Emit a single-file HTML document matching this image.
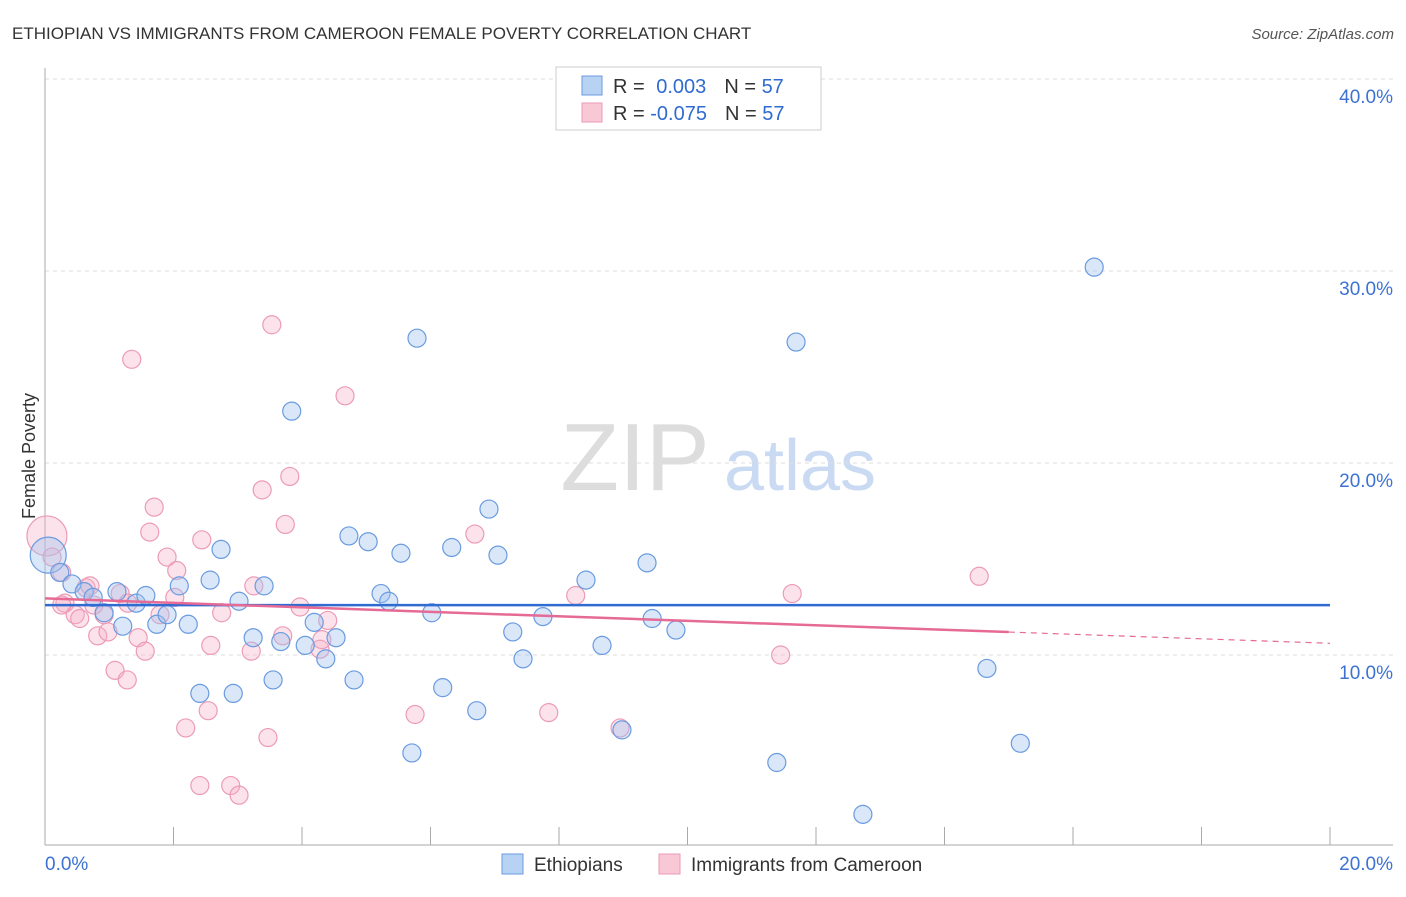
<!DOCTYPE html>
<html><head><meta charset="utf-8"><style>
body{margin:0;background:#fff;font-family:"Liberation Sans",sans-serif;}
svg text{font-family:"Liberation Sans",sans-serif;}
</style></head><body>
<svg width="1406" height="892" viewBox="0 0 1406 892">
<text x="12" y="39" font-size="17" fill="#333">ETHIOPIAN VS IMMIGRANTS FROM CAMEROON FEMALE POVERTY CORRELATION CHART</text>
<text x="1394" y="39" font-size="15" fill="#555" font-style="italic" text-anchor="end">Source: ZipAtlas.com</text>
<text x="35" y="456" font-size="18" fill="#333" text-anchor="middle" transform="rotate(-90 35 456)">Female Poverty</text>
<g><text x="635" y="490" font-size="96" font-family="Liberation Serif" fill="#ddd" text-anchor="middle">ZIP</text><text x="800" y="490" font-size="72" fill="#c9daf2" text-anchor="middle">atlas</text></g>
<g id="grid"></g><g id="axes"></g><g id="pts"></g><g id="lines"></g>
<g>
<rect x="556" y="67" width="265" height="63" fill="#fff" stroke="#ccc"/>
<rect x="582" y="76" width="20" height="19" fill="#b8d2f4" stroke="#6a9be0"/>
<rect x="582" y="103" width="20" height="19" fill="#f9c8d6" stroke="#eb9ab5"/>
<text x="613" y="93" font-size="20" fill="#333">R = <tspan fill="#2f6bd0" dx="6">0.003</tspan><tspan dx="18" fill="#333">N = </tspan><tspan fill="#2f6bd0">57</tspan></text>
<text x="613" y="120" font-size="20" fill="#333">R = <tspan fill="#2f6bd0">-0.075</tspan><tspan dx="18" fill="#333">N = </tspan><tspan fill="#2f6bd0">57</tspan></text>
</g>
<g>
<rect x="502" y="854" width="21" height="20" fill="#b8d2f4" stroke="#6a9be0"/>
<text x="534" y="871" font-size="19" fill="#333">Ethiopians</text>
<rect x="659" y="854" width="21" height="20" fill="#f9c8d6" stroke="#eb9ab5"/>
<text x="691" y="871" font-size="19" fill="#333">Immigrants from Cameroon</text>
</g>
</svg>
<script>
const xTicks=[0,20];
const yTicks=[10,20,30,40];
const blueX=[0.05,0.23,0.42,0.61,0.75,0.92,1.12,1.21,1.42,1.57,1.74,1.9,2.09,2.23,2.41,2.57,2.74,2.93,3.02,3.24,3.41,3.55,3.67,3.84,4.05,4.19,4.37,4.53,4.73,4.81,5.03,5.23,5.35,5.54,5.79,6.02,6.19,6.33,6.72,6.91,7.05,7.28,7.44,7.75,8.42,8.67,8.98,9.37,9.45,9.82,11.39,11.69,12.73,14.66,15.18,16.33,5.71];
const blueY=[15.2,14.3,13.7,13.3,13.0,12.2,13.3,11.5,12.7,13.1,11.6,12.1,13.6,11.6,8.0,13.9,15.5,8.0,12.8,10.9,13.6,8.7,10.7,22.7,10.5,11.7,9.8,10.9,16.2,8.7,15.9,13.2,12.8,15.3,26.5,12.2,8.3,15.6,7.1,17.6,15.2,11.2,9.8,12.0,13.9,10.5,6.1,14.8,11.9,11.3,4.4,26.3,1.7,9.3,5.4,30.2,4.9];
const pinkX=[0.03,0.11,0.26,0.31,0.47,0.54,0.64,0.7,0.82,0.92,0.98,1.09,1.17,1.28,1.45,1.56,1.63,1.7,1.79,1.9,2.02,2.05,2.19,2.41,2.44,2.54,2.58,2.75,2.89,3.02,3.21,3.25,3.38,3.47,3.53,3.7,3.74,3.81,4.28,4.31,4.4,4.67,5.76,6.69,7.84,8.26,8.95,11.45,11.63,14.54,1.35,0.26,0.76,1.29,3.97];
const pinkY=[16.2,15.1,14.3,12.7,12.1,11.9,13.5,13.6,11.0,12.1,11.2,9.2,13.2,8.7,10.9,10.2,16.4,17.7,12.1,15.1,13.0,14.4,6.2,3.2,16.0,7.1,10.5,12.2,3.2,2.7,10.2,13.6,18.6,5.7,27.2,11.0,16.8,19.3,10.3,10.8,11.8,23.5,6.9,16.3,7.0,13.1,6.2,10.0,13.2,14.1,25.4,12.6,12.6,12.7,12.5];
const blueA=12.6, blueB=0.0, pinkA=12.95, pinkB=-0.117;
const NS='http://www.w3.org/2000/svg';
const X=v=>45+v/20*1285, Y=v=>847-v*19.2;
function mk(t,a,p){const e=document.createElementNS(NS,t);for(const k in a)e.setAttribute(k,a[k]);p.appendChild(e);return e;}
const grid=document.getElementById('grid'),axes=document.getElementById('axes');
yTicks.forEach(v=>{
 const l=mk('line',{x1:45,x2:1393,y1:Y(v),y2:Y(v),stroke:'#ddd','stroke-dasharray':'4,4'},grid);
 
 
 const t=mk('text',{x:1393,y:Y(v)+24,'font-size':19,fill:'#3d72d2','text-anchor':'end'},axes);
 t.textContent=v.toFixed(1)+'%';
 
 
});
mk('line',{x1:45,x2:45,y1:68,y2:845,stroke:'#aaa'},axes);
mk('line',{x1:45,x2:1393,y1:845,y2:845,stroke:'#aaa'},axes);
for(let i=0;i<=10;i++){mk('line',{x1:X(i*2),x2:X(i*2),y1:827,y2:845,stroke:'#aaa'},axes);}
xTicks.forEach((v,i)=>{
 const t=mk('text',{x:i?1393:45,y:870,'font-size':19,fill:'#3d72d2','text-anchor':i?'end':'start'},axes);
 t.textContent=v.toFixed(1)+'%';
 
 
});
const pts=document.getElementById('pts');
pinkX.forEach((x,i)=>{
 const c=mk('circle',{cx:X(x),cy:Y(pinkY[i]),r:i==0?20:9,fill:'rgba(245,175,198,0.35)',stroke:'#ec9bb6','stroke-width':1.2},pts);
 
 
});
blueX.forEach((x,i)=>{
 const c=mk('circle',{cx:X(x),cy:Y(blueY[i]),r:i==0?18:9,fill:'rgba(160,195,240,0.4)',stroke:'#6a9be0','stroke-width':1.2},pts);
 
 
});
const ln=document.getElementById('lines');
const b=mk('line',{x1:X(0),x2:X(20),y1:Y(blueA),y2:Y(blueA+20*blueB),stroke:'#2f6bd0','stroke-width':2.5},ln);


const p=mk('line',{x1:X(0),x2:X(15),y1:Y(pinkA),y2:Y(pinkA+15*pinkB),stroke:'#e56a95','stroke-width':2.5},ln);


const pd=mk('line',{x1:X(15),x2:X(20),y1:Y(pinkA+15*pinkB),y2:Y(pinkA+20*pinkB),stroke:'#e56a95','stroke-width':1.2,'stroke-dasharray':'6,5'},ln);


</script>
</body></html>
